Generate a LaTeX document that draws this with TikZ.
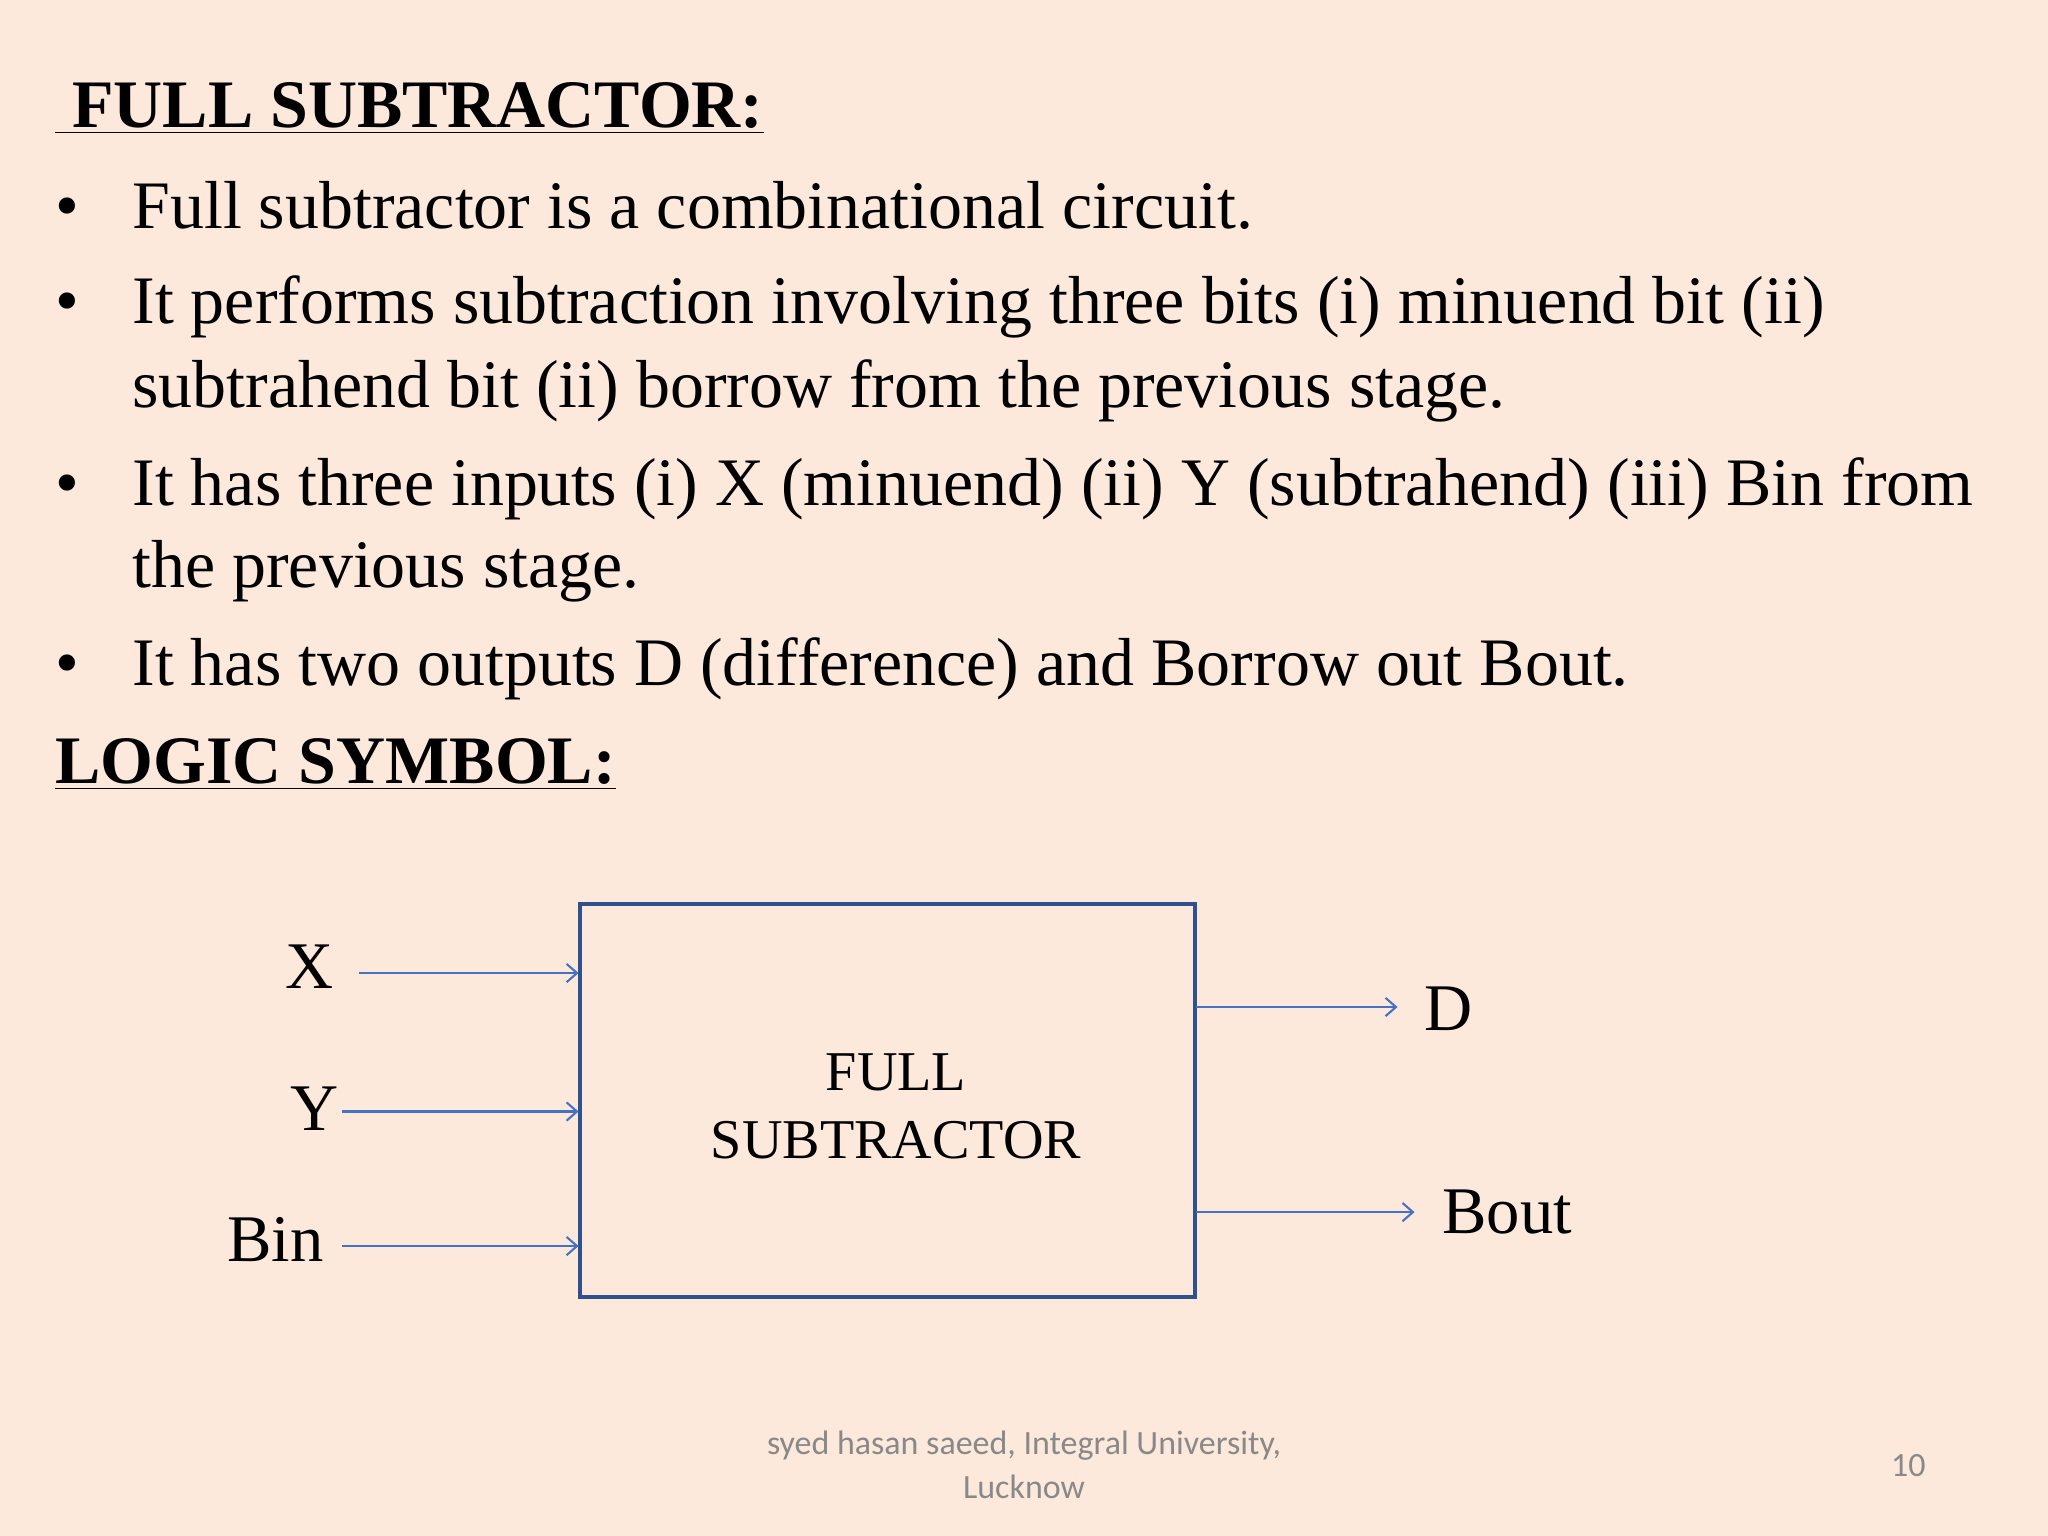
\documentclass[tikz,border=0pt]{standalone}
\usepackage{fontspec}
\setmainfont{Liberation Serif}
\newfontfamily\footfont{Carlito}
\usetikzlibrary{arrows.meta}
\definecolor{bg}{RGB}{252,233,220}
\definecolor{boxc}{RGB}{47,82,143}
\definecolor{arr}{RGB}{68,114,196}
\definecolor{foot}{RGB}{137,137,137}
\tikzset{
 txt/.style={anchor=base west,inner sep=0pt,font=\fontsize{26}{30}\selectfont},
 ttl/.style={anchor=base west,inner sep=0pt,font=\fontsize{26}{30}\selectfont\bfseries},
 lbl/.style={inner sep=0pt,font=\fontsize{25.5}{30}\selectfont},
 conn/.style={draw=arr,line width=0.8pt,-{Straight Barb[length=4pt,width=7pt]}},
 ft/.style={inner sep=0pt,text=foot,font=\footfont\fontsize{13}{15}\selectfont,align=center}
}
\begin{document}
\begin{tikzpicture}[x=0.5pt,y=-0.5pt]
\fill[bg] (0,0) rectangle (1568,1176);
\useasboundingbox (0,0) rectangle (1568,1176);
\node[ttl] (t1) at (42,98) {\underline{\ FULL SUBTRACTOR:}};
\foreach \y/\n in {175/b1,248/b2,387/b3,525/b4} \node[txt] (\n) at (42,\y) {\textbullet};
\node[txt] (l1) at (101,175) {Full subtractor is a combinational circuit.};
\node[txt] (l2) at (101,248) {It performs subtraction involving three bits (i) minuend bit (ii)};
\node[txt] (l3) at (101,312) {subtrahend bit (ii) borrow from the previous stage.};
\node[txt] (l4) at (101,387) {It has three inputs (i) X (minuend) (ii) Y (subtrahend) (iii) Bin from};
\node[txt] (l5) at (101,450) {the previous stage.};
\node[txt] (l6) at (101,525) {It has two outputs D (difference) and Borrow out Bout.};
\node[ttl] (t2) at (42,600) {\underline{LOGIC SYMBOL:}};
\draw[boxc,line width=1.6pt] (444,692) rectangle (915,993);
\node[inner sep=0pt,align=center,font=\fontsize{21.5}{26}\selectfont] (fs) at (686,847) {FULL\\SUBTRACTOR};
\coordinate (xi) at (443,745); \coordinate (yi) at (443,851); \coordinate (bi) at (443,954);
\coordinate (ds) at (916,771); \coordinate (bs) at (916,928);
\node[lbl,anchor=east] (X) at (256,740) {X};
\node[lbl,anchor=east] (Y) at (260,849) {Y};
\node[lbl,anchor=east] (Bin) at (248,949) {Bin};
\node[lbl,anchor=west] (D) at (1090,772) {D};
\node[lbl,anchor=west] (Bout) at (1104,928) {Bout};
\draw[conn] (X.east)++(19,5) -- (xi);
\draw[conn] (Y.east)++(2,2) -- (yi);
\draw[conn] (Bin.east)++(14,5) -- (bi);
\draw[conn] (ds) -- (1070,771);
\draw[conn] (bs) -- (1083,928);
\node[ft] (f1) at (784,1107) {syed hasan saeed, Integral University,};
\node[ft] (f2) at (784,1138) {Lucknow};
\node[ft] (pn) at (1461,1122) {10};
\end{tikzpicture}
\end{document}
